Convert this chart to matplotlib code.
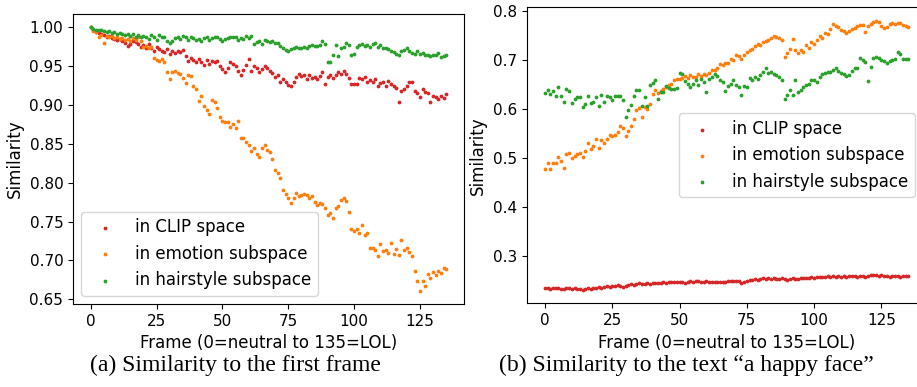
import numpy as np
import matplotlib
matplotlib.use("Agg")
import matplotlib.pyplot as plt

frames = np.arange(136)

# (a) similarity to the first frame
clip_first = [
    1.000, 0.996, 0.994, 0.993, 0.991, 0.990, 0.988, 0.989, 0.986, 0.985,
    0.984, 0.985, 0.982, 0.980, 0.976, 0.979, 0.983, 0.981, 0.978, 0.975,
    0.977, 0.973, 0.979, 0.974, 0.970, 0.975, 0.972, 0.969, 0.968, 0.972,
    0.966, 0.970, 0.967, 0.970, 0.968, 0.971, 0.963, 0.957, 0.960, 0.958,
    0.955, 0.959, 0.956, 0.952, 0.958, 0.953, 0.957, 0.955, 0.957, 0.950,
    0.946, 0.942, 0.948, 0.955, 0.953, 0.950, 0.944, 0.938, 0.945, 0.951,
    0.959, 0.944, 0.950, 0.948, 0.942, 0.946, 0.950, 0.947, 0.944, 0.941,
    0.936, 0.938, 0.929, 0.933, 0.930, 0.926, 0.925, 0.930, 0.936, 0.940,
    0.937, 0.939, 0.934, 0.938, 0.935, 0.936, 0.933, 0.937, 0.942, 0.927,
    0.936, 0.938, 0.935, 0.939, 0.942, 0.940, 0.944, 0.940, 0.935, 0.927,
    0.927, 0.927, 0.935, 0.934, 0.936, 0.930, 0.932, 0.929, 0.933, 0.925,
    0.928, 0.930, 0.925, 0.931, 0.927, 0.924, 0.922, 0.904, 0.918, 0.921,
    0.925, 0.929, 0.929, 0.918, 0.916, 0.910, 0.920, 0.917, 0.916, 0.904,
    0.912, 0.910, 0.908, 0.911, 0.909, 0.914,
]
emotion_first = [
    1.000, 0.995, 0.994, 0.988, 0.990, 0.980, 0.989, 0.988, 0.989, 0.986,
    0.987, 0.985, 0.986, 0.984, 0.985, 0.982, 0.986, 0.984, 0.987, 0.983,
    0.975, 0.976, 0.974, 0.975, 0.961, 0.958, 0.957, 0.959, 0.956, 0.943,
    0.933, 0.942, 0.944, 0.941, 0.940, 0.935, 0.928, 0.939, 0.937, 0.925,
    0.921, 0.905, 0.912, 0.899, 0.893, 0.888, 0.906, 0.904, 0.896, 0.884,
    0.880, 0.878, 0.878, 0.872, 0.876, 0.871, 0.880, 0.858, 0.858, 0.852,
    0.849, 0.841, 0.845, 0.837, 0.833, 0.845, 0.849, 0.842, 0.840, 0.830,
    0.817, 0.812, 0.806, 0.791, 0.785, 0.780, 0.774, 0.781, 0.787, 0.783,
    0.784, 0.785, 0.784, 0.781, 0.783, 0.775, 0.772, 0.774, 0.773, 0.768,
    0.759, 0.761, 0.755, 0.768, 0.770, 0.778, 0.780, 0.776, 0.762, 0.741,
    0.738, 0.740, 0.735, 0.746, 0.733, 0.735, 0.716, 0.716, 0.714, 0.706,
    0.721, 0.712, 0.714, 0.710, 0.722, 0.708, 0.715, 0.707, 0.726, 0.713,
    0.716, 0.711, 0.706, 0.687, 0.673, 0.661, 0.673, 0.667, 0.682, 0.678,
    0.685, 0.681, 0.687, 0.684, 0.690, 0.689,
]
hair_first = [
    1.000, 0.998, 0.997, 0.996, 0.997, 0.995, 0.994, 0.995, 0.993, 0.994,
    0.992, 0.993, 0.991, 0.990, 0.992, 0.989, 0.991, 0.988, 0.990, 0.987,
    0.989, 0.988, 0.985, 0.990, 0.987, 0.984, 0.990, 0.987, 0.988, 0.982,
    0.980, 0.983, 0.986, 0.988, 0.985, 0.989, 0.987, 0.984, 0.988, 0.986,
    0.984, 0.985, 0.983, 0.986, 0.987, 0.984, 0.986, 0.988, 0.987, 0.985,
    0.982, 0.985, 0.986, 0.988, 0.987, 0.988, 0.984, 0.986, 0.985, 0.989,
    0.986, 0.989, 0.978, 0.981, 0.982, 0.979, 0.984, 0.983, 0.981, 0.982,
    0.980, 0.980, 0.976, 0.973, 0.971, 0.969, 0.972, 0.974, 0.975, 0.974,
    0.973, 0.975, 0.974, 0.976, 0.977, 0.976, 0.976, 0.977, 0.982, 0.979,
    0.955, 0.955, 0.965, 0.977, 0.963, 0.974, 0.975, 0.980, 0.977, 0.965,
    0.966, 0.975, 0.977, 0.978, 0.976, 0.977, 0.975, 0.978, 0.980, 0.975,
    0.977, 0.974, 0.973, 0.972, 0.970, 0.968, 0.966, 0.964, 0.969, 0.971,
    0.974, 0.969, 0.967, 0.966, 0.970, 0.966, 0.967, 0.964, 0.965, 0.963,
    0.964, 0.965, 0.967, 0.962, 0.963, 0.965,
]

# (b) similarity to the text "a happy face"
clip_text = [
    0.235, 0.235, 0.234, 0.235, 0.236, 0.235, 0.234, 0.233, 0.236, 0.235,
    0.234, 0.235, 0.234, 0.233, 0.232, 0.234, 0.235, 0.234, 0.236, 0.235,
    0.237, 0.236, 0.238, 0.239, 0.238, 0.240, 0.239, 0.241, 0.240, 0.238,
    0.240, 0.242, 0.243, 0.242, 0.244, 0.245, 0.244, 0.243, 0.245, 0.244,
    0.245, 0.246, 0.245, 0.246, 0.247, 0.246, 0.247, 0.248, 0.247, 0.248,
    0.248, 0.247, 0.246, 0.248, 0.249, 0.248, 0.249, 0.250, 0.248, 0.247,
    0.249, 0.248, 0.247, 0.248, 0.247, 0.248, 0.247, 0.248, 0.249, 0.250,
    0.250, 0.249, 0.251, 0.246, 0.248, 0.250, 0.252, 0.253, 0.254, 0.253,
    0.255, 0.256, 0.255, 0.256, 0.255, 0.256, 0.255, 0.254, 0.256, 0.254,
    0.253, 0.255, 0.256, 0.255, 0.254, 0.256, 0.257, 0.256, 0.257, 0.258,
    0.257, 0.258, 0.259, 0.258, 0.259, 0.260, 0.259, 0.260, 0.259, 0.260,
    0.259, 0.260, 0.259, 0.260, 0.261, 0.260, 0.259, 0.260, 0.261, 0.259,
    0.260, 0.262, 0.263, 0.262, 0.261, 0.262, 0.260, 0.261, 0.259, 0.260,
    0.261, 0.260, 0.259, 0.260, 0.261, 0.260,
]
emotion_text = [
    0.479, 0.491, 0.479, 0.490, 0.490, 0.503, 0.495, 0.481, 0.508, 0.510,
    0.501, 0.505, 0.508, 0.510, 0.502, 0.514, 0.530, 0.518, 0.525, 0.540,
    0.521, 0.537, 0.531, 0.540, 0.548, 0.545, 0.548, 0.554, 0.565, 0.562,
    0.546, 0.555, 0.565, 0.579, 0.599, 0.602, 0.584, 0.605, 0.600, 0.611,
    0.630, 0.638, 0.632, 0.637, 0.640, 0.645, 0.650, 0.652, 0.660, 0.661,
    0.662, 0.663, 0.667, 0.664, 0.669, 0.666, 0.666, 0.671, 0.667, 0.671,
    0.669, 0.674, 0.679, 0.679, 0.684, 0.691, 0.690, 0.694, 0.694, 0.701,
    0.699, 0.711, 0.708, 0.703, 0.711, 0.716, 0.720, 0.723, 0.729, 0.733,
    0.731, 0.736, 0.739, 0.741, 0.744, 0.748, 0.746, 0.744, 0.741, 0.706,
    0.715, 0.723, 0.742, 0.720, 0.715, 0.720, 0.716, 0.730, 0.725, 0.737,
    0.733, 0.740, 0.748, 0.745, 0.754, 0.752, 0.764, 0.774, 0.770, 0.767,
    0.762, 0.758, 0.755, 0.760, 0.764, 0.766, 0.769, 0.771, 0.771, 0.756,
    0.769, 0.774, 0.777, 0.780, 0.778, 0.770, 0.765, 0.768, 0.773, 0.775,
    0.774, 0.776, 0.775, 0.772, 0.770, 0.768,
]
hair_text = [
    0.632, 0.638, 0.630, 0.636, 0.627, 0.644, 0.627, 0.614, 0.640, 0.636,
    0.613, 0.620, 0.624, 0.625, 0.605, 0.610, 0.626, 0.613, 0.615, 0.625,
    0.606, 0.628, 0.615, 0.626, 0.625, 0.618, 0.627, 0.626, 0.626, 0.618,
    0.584, 0.598, 0.608, 0.626, 0.638, 0.638, 0.607, 0.625, 0.606, 0.649,
    0.653, 0.659, 0.620, 0.635, 0.635, 0.647, 0.643, 0.640, 0.640, 0.642,
    0.674, 0.672, 0.658, 0.651, 0.645, 0.652, 0.659, 0.650, 0.662, 0.655,
    0.635, 0.662, 0.666, 0.671, 0.667, 0.659, 0.655, 0.637, 0.648, 0.652,
    0.659, 0.650, 0.645, 0.628, 0.648, 0.644, 0.663, 0.659, 0.665, 0.662,
    0.669, 0.675, 0.683, 0.674, 0.676, 0.672, 0.669, 0.665, 0.659, 0.620,
    0.628, 0.639, 0.628, 0.659, 0.635, 0.639, 0.645, 0.649, 0.652, 0.659,
    0.660, 0.655, 0.665, 0.672, 0.674, 0.675, 0.676, 0.679, 0.683, 0.678,
    0.674, 0.672, 0.668, 0.669, 0.678, 0.683, 0.683, 0.705, 0.700, 0.696,
    0.658, 0.685, 0.705, 0.706, 0.705, 0.700, 0.697, 0.694, 0.697, 0.700,
    0.701, 0.717, 0.713, 0.703, 0.702, 0.702,
]

labels = ["in CLIP space", "in emotion subspace", "in hairstyle subspace"]
colors = ["C3", "C1", "C2"]


def draw_panel(ax, series, **legend_kw):
    for ys, label, c in zip(series, labels, colors):
        ax.scatter(frames, ys, s=3, color=c, label=label)
    ax.set_xticks([0, 25, 50, 75, 100, 125])
    ax.tick_params(labelsize=11)
    ax.set_xlabel("Frame (0=neutral to 135=LOL)", fontsize=12)
    ax.set_ylabel("Similarity", fontsize=12)
    ax.legend(fontsize=12, **legend_kw)


fig = plt.figure(figsize=(9.17, 3.87), dpi=100)
ax_a = fig.add_axes([0.0796, 0.2145, 0.4264, 0.749])
ax_b = fig.add_axes([0.5744, 0.2163, 0.436, 0.765])

draw_panel(ax_a, [clip_first, emotion_first, hair_first], loc="lower left")
# right plot runs past the figure edge, keep its legend inside
draw_panel(ax_b, [clip_text, emotion_text, hair_text], loc="center right",
           bbox_to_anchor=(0.972, 0.5), borderaxespad=0)
ax_a.set_yticks([0.65, 0.70, 0.75, 0.80, 0.85, 0.90, 0.95, 1.00])

fig.text(0.257, 0.055, "(a) Similarity to the first frame",
         family="Liberation Serif", fontsize=17, ha="center", va="center")
fig.text(0.749, 0.055, "(b) Similarity to the text \u201ca happy face\u201d",
         family="Liberation Serif", fontsize=17, ha="center", va="center")

fig.savefig("out.png", dpi=100)
